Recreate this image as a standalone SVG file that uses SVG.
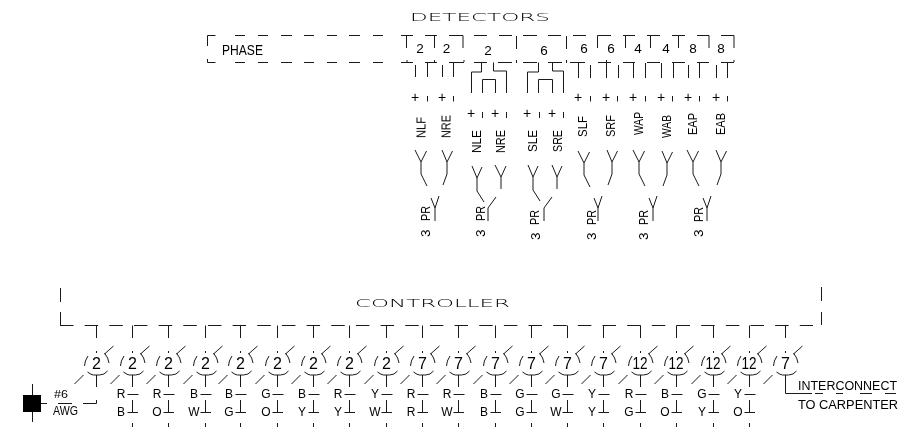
<svg xmlns="http://www.w3.org/2000/svg" width="899" height="439" viewBox="0 0 899 439">
<style>
path,line{fill:none;stroke:#1a1a1a;stroke-width:1}
text{font-family:"Liberation Sans",Arial,sans-serif;fill:#000;font-size:13.500px;filter:url(#gray)}
.m{text-anchor:middle}
.d{font-size:16px;text-anchor:middle}
.l{font-size:12px;text-anchor:middle}
.w{font-family:"DejaVu Sans","Liberation Sans",sans-serif;font-weight:200;font-size:10px}
.p{font-size:14px;text-anchor:middle}
.i{font-size:12.500px}
</style>
<defs>
<filter id="gray" x="-30%" y="-30%" width="160%" height="160%"><feOffset dx="0" dy="0"/></filter>
<g id="drop">
<path d="M-8.5,-8 Q-12,-3 -12,2 M8,-11 Q12,-6 12.500,-1 M8,-10 L17,-18 M0,-13 V-11 M-9,8 Q-5,11 -3,11 H3 Q8,11 11,7 M0,11 V23 M-22,20 L-13,11"/>
</g>
<g id="lead">
<path d="M-5,30.500 H6 M0,36 V48 M-5,48.500 H5.500 M0,59 V63"/>
</g>
<g id="forkL"><path d="M-6,-12 L0,0 L5.500,-11 M0,0 V12 L6,24"/></g>
<g id="forkR"><path d="M-5,-12 L0,0 L5.500,-11 M0,0 V12 L-4,23"/></g>
<g id="prY"><path d="M-4,-10 L0,0 L4,-12 M0,0 V13"/></g>
</defs>

<g id="connectors">
<path d="M207.500,46 V35.500 H215.500 M235,35.500 H245 M258,35.500 H268 M281,35.500 H292 M304,35.500 H314 M327,35.500 H337 M349,35.500 H360 M373,35.500 H383 M401,35.500 H413 M425,35.500 H437 M449,35.500 H463 V48 M474,35.500 H487 M499,35.500 H512 M516.500,36 V49 M523,35.500 H537 M548,35.500 H561 M566.500,36 V49 M573,35.500 H586 M597.500,48 V35.500 H611 M623,35.500 H635 M647,35.500 H660 M672,35.500 H685 M697,35.500 H709 V48 M721,35.500 H734 V48 M406.500,35.500 V48 M434.500,35.500 V48 M625.500,35.500 V48 M650.500,35.500 V48 M678.500,35.500 V48"/>
<path d="M207.500,59 V62.500 H215.500 M235,62.500 H245 M258,62.500 H268 M281,62.500 H292 M304,62.500 H314 M327,62.500 H337 M349,62.500 H360 M373,62.500 H383 M401,62.500 H413 M425,62.500 H437 M449,62.500 H464 M474,62.500 H487 M498,62.500 H512 M523,62.500 H537 M548,62.500 H562 M570,62.500 H585 M598,62.500 H611 M623,62.500 H635 M647,62.500 H660 M672,62.500 H685 M697,62.500 H709 M721,62.500 H734 M407,60 V62 M434.500,60 V62 M464,60 V62 M516.500,60 V63 M566.500,60 V63 M606.500,60 V62 M734,60 V62"/>
<path d="M415.500,65 V77 M427.500,63 V77 M442.500,65 V77 M453.500,63 V77 M578.500,63 V78 M590.500,65 V78 M606.500,63 V78 M618.500,65 V78 M633.500,63 V78 M645.500,63 V78 M661.500,63 V78 M673.500,63 V78 M688.500,65 V78 M699.500,63 V78 M716.500,65 V78 M727.500,63 V78"/>
<path d="M481.500,62.500 V72 H471.500 V93 M493.500,62.500 V71 H506.500 V93 M482.500,93 V79.500 H495.500 V93 M538.500,62.500 V72 H527.500 V93 M552.500,62.500 V71 H563.500 V93 M538.500,93 V79.500 H552.500 V93"/>
<path d="M427.500,96 V101.500 M453.500,96 V101.500 M482.500,112 V118 M506.500,112 V118 M539.500,112 V118 M563.500,112 V118 M590.500,96 V101.500 M617.500,96 V101.500 M645.500,96 V101.500 M672.500,96 V101.500 M699.500,96 V101.500 M727.500,96 V101.500"/>
<use href="#forkL" x="421" y="162"/>
<use href="#forkR" x="447" y="162"/>
<use href="#prY" x="435" y="208"/>
<path d="M472,166 L477,178 L482,167 M477,178 V191 L484,202"/>
<path d="M495,165 L501,177 L506,166 M501,177 V189"/>
<path d="M496,197 L488,208 V221"/>
<path d="M528,165 L533,177 L538,166 M533,177 V190 L540,201"/>
<path d="M552,165 L557,177 L562,166 M557,177 V189"/>
<path d="M552,197 L544,208 V221"/>
<use href="#forkL" x="584" y="163"/>
<use href="#forkR" x="612" y="162"/>
<use href="#prY" x="598" y="208"/>
<use href="#forkL" x="639" y="162"/>
<use href="#forkR" x="667" y="163"/>
<use href="#prY" x="653" y="208"/>
<use href="#forkL" x="693" y="162"/>
<use href="#forkR" x="721" y="162"/>
<use href="#prY" x="707" y="208"/>

<path d="M60.500,288 V302 M60.500,312 V325.500 M821.500,287 V301 M821.500,312 V325"/>
<path d="M60,325.500 H813" stroke-dasharray="13.500 11.160"/>
<path d="M96.500,325.500 V338 M132.500,325.500 V338 M168.500,325.500 V338 M205.500,325.500 V338 M240.500,325.500 V338 M277.500,325.500 V338 M313.500,325.500 V338 M349.500,325.500 V338 M386.500,325.500 V338 M422.500,325.500 V338 M458.500,325.500 V338 M495.500,325.500 V338 M531.500,325.500 V338 M567.500,325.500 V338 M603.500,325.500 V338 M640.500,325.500 V338 M676.500,325.500 V338 M713.500,325.500 V338 M749.500,325.500 V338 M785.500,325.500 V338"/>
<path d="M83,403.500 H96.500 V400 M785.500,387 V393.500 H812 M815,393.500 H823 M836,393.500 H843 M860,393.500 H872 M885,393.500 H896"/>
<path d="M41,403.500 H47 M32.500,384 V422 M58,403.500 H72"/>
</g>

<g id="detectors"><text class="w" x="410" y="21" textLength="140" lengthAdjust="spacingAndGlyphs">DETECTORS</text></g>
<g id="phase"><text x="222" y="55" style="font-size:14px" textLength="41" lengthAdjust="spacingAndGlyphs">PHASE</text>
<text class="m" x="420" y="53">2</text><text class="m" x="446.500" y="53">2</text><text class="m" x="488" y="55">2</text><text class="m" x="544" y="55">6</text><text class="m" x="584" y="53">6</text><text class="m" x="611" y="53">6</text><text class="m" x="638" y="53">4</text><text class="m" x="666" y="53">4</text><text class="m" x="693" y="53">8</text><text class="m" x="721" y="53">8</text></g>

<g id="polarity">
<text class="p" x="415" y="102">+</text><text class="p" x="442" y="102">+</text><text class="p" x="471" y="118">+</text><text class="p" x="495" y="118">+</text><text class="p" x="527" y="118">+</text><text class="p" x="552" y="118">+</text><text class="p" x="578" y="102">+</text><text class="p" x="606" y="102">+</text><text class="p" x="633" y="102">+</text><text class="p" x="661" y="102">+</text><text class="p" x="688" y="102">+</text><text class="p" x="716" y="102">+</text>
</g>

<g id="detector-labels">
<text transform="translate(425.500 138) rotate(-90)" textLength="21" lengthAdjust="spacingAndGlyphs">NLF</text>
<text transform="translate(450.500 138) rotate(-90)" textLength="23" lengthAdjust="spacingAndGlyphs">NRE</text>
<text transform="translate(481 153) rotate(-90)" textLength="23" lengthAdjust="spacingAndGlyphs">NLE</text>
<text transform="translate(505 153) rotate(-90)" textLength="23" lengthAdjust="spacingAndGlyphs">NRE</text>
<text transform="translate(537 152) rotate(-90)" textLength="22" lengthAdjust="spacingAndGlyphs">SLE</text>
<text transform="translate(562 152) rotate(-90)" textLength="22" lengthAdjust="spacingAndGlyphs">SRE</text>
<text transform="translate(587 137) rotate(-90)" textLength="21" lengthAdjust="spacingAndGlyphs">SLF</text>
<text transform="translate(615 137) rotate(-90)" textLength="22" lengthAdjust="spacingAndGlyphs">SRF</text>
<text transform="translate(643 135) rotate(-90)" textLength="23" lengthAdjust="spacingAndGlyphs">WAP</text>
<text transform="translate(671 138) rotate(-90)" textLength="23" lengthAdjust="spacingAndGlyphs">WAB</text>
<text transform="translate(697 135) rotate(-90)" textLength="22" lengthAdjust="spacingAndGlyphs">EAP</text>
<text transform="translate(725 135) rotate(-90)" textLength="22" lengthAdjust="spacingAndGlyphs">EAB</text>
<text transform="translate(430 221) rotate(-90)" textLength="15" lengthAdjust="spacingAndGlyphs">PR</text>
<text transform="translate(485 221) rotate(-90)" textLength="15" lengthAdjust="spacingAndGlyphs">PR</text>
<text transform="translate(539 225) rotate(-90)" textLength="15" lengthAdjust="spacingAndGlyphs">PR</text>
<text transform="translate(596 225) rotate(-90)" textLength="15" lengthAdjust="spacingAndGlyphs">PR</text>
<text transform="translate(648 225) rotate(-90)" textLength="15" lengthAdjust="spacingAndGlyphs">PR</text>
<text transform="translate(703 222) rotate(-90)" textLength="15" lengthAdjust="spacingAndGlyphs">PR</text>
<text transform="translate(430 237) rotate(-90)">3</text>
<text transform="translate(485 237) rotate(-90)">3</text>
<text transform="translate(540 240) rotate(-90)">3</text>
<text transform="translate(596 240) rotate(-90)">3</text>
<text transform="translate(648 240) rotate(-90)">3</text>
<text transform="translate(703 237) rotate(-90)">3</text>
</g>

<g id="controller"><text class="w" x="355" y="307" textLength="155" lengthAdjust="spacingAndGlyphs">CONTROLLER</text></g>

<g id="ground"><rect x="23" y="395" width="18" height="17" fill="#000"/>
<text x="54" y="398" style="font-size:10px" textLength="14" lengthAdjust="spacingAndGlyphs">#6</text>
<text x="53" y="415" style="font-size:12px" textLength="25" lengthAdjust="spacingAndGlyphs">AWG</text></g>

<g id="c1"><use href="#drop" x="96.500" y="364"/><text class="d" x="96.500" y="369">2</text></g>
<g id="c2"><use href="#drop" x="132.500" y="364"/><use href="#lead" x="132.500" y="364"/><text class="d" x="132.500" y="369">2</text><text class="l" x="121" y="398">R</text><text class="l" x="121" y="416">B</text></g>
<g id="c3"><use href="#drop" x="168.500" y="364"/><use href="#lead" x="168.500" y="364"/><text class="d" x="168.500" y="369">2</text><text class="l" x="157" y="398">R</text><text class="l" x="157" y="416">O</text></g>
<g id="c4"><use href="#drop" x="205.500" y="364"/><use href="#lead" x="205.500" y="364"/><text class="d" x="205.500" y="369">2</text><text class="l" x="194" y="398">B</text><text class="l" x="194" y="416">W</text></g>
<g id="c5"><use href="#drop" x="240.500" y="364"/><use href="#lead" x="240.500" y="364"/><text class="d" x="240.500" y="369">2</text><text class="l" x="229" y="398">B</text><text class="l" x="229" y="416">G</text></g>
<g id="c6"><use href="#drop" x="277.500" y="364"/><use href="#lead" x="277.500" y="364"/><text class="d" x="277.500" y="369">2</text><text class="l" x="266" y="398">G</text><text class="l" x="266" y="416">O</text></g>
<g id="c7"><use href="#drop" x="313.500" y="364"/><use href="#lead" x="313.500" y="364"/><text class="d" x="313.500" y="369">2</text><text class="l" x="302" y="398">B</text><text class="l" x="302" y="416">Y</text></g>
<g id="c8"><use href="#drop" x="349.500" y="364"/><use href="#lead" x="349.500" y="364"/><text class="d" x="349.500" y="369">2</text><text class="l" x="338" y="398">R</text><text class="l" x="338" y="416">Y</text></g>
<g id="c9"><use href="#drop" x="386.500" y="364"/><use href="#lead" x="386.500" y="364"/><text class="d" x="386.500" y="369">2</text><text class="l" x="375" y="398">Y</text><text class="l" x="375" y="416">W</text></g>
<g id="c10"><use href="#drop" x="422.500" y="364"/><use href="#lead" x="422.500" y="364"/><text class="d" x="422.500" y="369">7</text><text class="l" x="411" y="398">R</text><text class="l" x="411" y="416">R</text></g>
<g id="c11"><use href="#drop" x="458.500" y="364"/><use href="#lead" x="458.500" y="364"/><text class="d" x="458.500" y="369">7</text><text class="l" x="447" y="398">R</text><text class="l" x="447" y="416">W</text></g>
<g id="c12"><use href="#drop" x="495.500" y="364"/><use href="#lead" x="495.500" y="364"/><text class="d" x="495.500" y="369">7</text><text class="l" x="484" y="398">B</text><text class="l" x="484" y="416">B</text></g>
<g id="c13"><use href="#drop" x="531.500" y="364"/><use href="#lead" x="531.500" y="364"/><text class="d" x="531.500" y="369">7</text><text class="l" x="520" y="398">G</text><text class="l" x="520" y="416">G</text></g>
<g id="c14"><use href="#drop" x="567.500" y="364"/><use href="#lead" x="567.500" y="364"/><text class="d" x="567.500" y="369">7</text><text class="l" x="556" y="398">G</text><text class="l" x="556" y="416">W</text></g>
<g id="c15"><use href="#drop" x="603.500" y="364"/><use href="#lead" x="603.500" y="364"/><text class="d" x="603.500" y="369">7</text><text class="l" x="592" y="398">Y</text><text class="l" x="592" y="416">Y</text></g>
<g id="c16"><use href="#drop" x="640.500" y="364"/><use href="#lead" x="640.500" y="364"/><text class="d" x="640" y="369" textLength="15" lengthAdjust="spacingAndGlyphs">12</text><text class="l" x="629" y="398">R</text><text class="l" x="629" y="416">G</text></g>
<g id="c17"><use href="#drop" x="676.500" y="364"/><use href="#lead" x="676.500" y="364"/><text class="d" x="676" y="369" textLength="15" lengthAdjust="spacingAndGlyphs">12</text><text class="l" x="665" y="398">B</text><text class="l" x="665" y="416">O</text></g>
<g id="c18"><use href="#drop" x="713.500" y="364"/><use href="#lead" x="713.500" y="364"/><text class="d" x="713" y="369" textLength="15" lengthAdjust="spacingAndGlyphs">12</text><text class="l" x="702" y="398">G</text><text class="l" x="702" y="416">Y</text></g>
<g id="c19"><use href="#drop" x="749.500" y="364"/><use href="#lead" x="749.500" y="364"/><text class="d" x="749" y="369" textLength="15" lengthAdjust="spacingAndGlyphs">12</text><text class="l" x="738" y="398">Y</text><text class="l" x="738" y="416">O</text></g>
<g id="c20"><use href="#drop" x="785.500" y="364"/><text class="d" x="785.500" y="369">7</text></g>

<g id="interconnect"><text class="i" x="798" y="390" textLength="99" lengthAdjust="spacingAndGlyphs">INTERCONNECT</text>
<text class="i" x="798" y="409" textLength="100" lengthAdjust="spacingAndGlyphs">TO CARPENTER</text></g>
</svg>
